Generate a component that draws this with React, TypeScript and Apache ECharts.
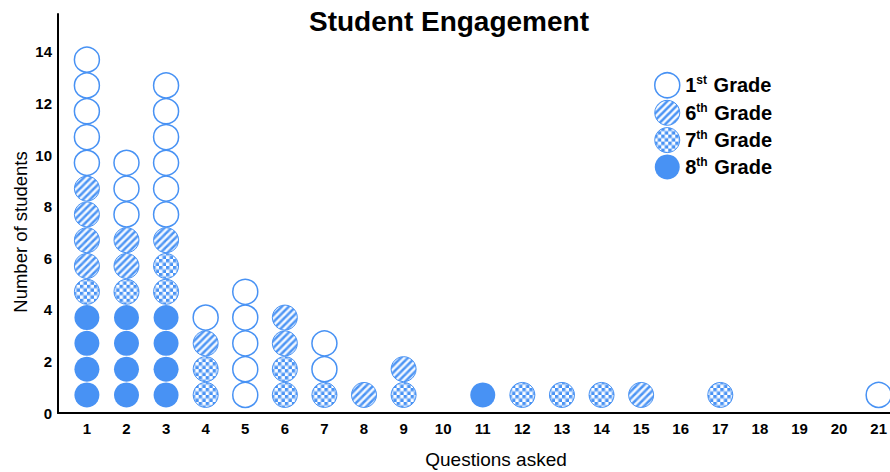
import React, { useEffect, useRef } from "react";
import * as echarts from "echarts";

const questions = [1, 2, 3, 4, 5, 6, 7, 8, 9, 10, 11, 12, 13, 14, 15, 16, 17, 18, 19, 20, 21];
// counts of students per number of questions asked, per grade
const grade8 = [4, 4, 4, 0, 0, 0, 0, 0, 0, 0, 1, 0, 0, 0, 0, 0, 0, 0, 0, 0, 0];
const grade7 = [1, 1, 2, 2, 0, 2, 1, 0, 1, 0, 0, 1, 1, 1, 0, 0, 1, 0, 0, 0, 0];
const grade6 = [4, 2, 1, 1, 0, 2, 0, 1, 1, 0, 0, 0, 0, 0, 1, 0, 0, 0, 0, 0, 0];
const grade1 = [5, 3, 6, 1, 5, 0, 2, 0, 0, 0, 0, 0, 0, 0, 0, 0, 0, 0, 0, 0, 1];
const yTicks = [0, 2, 4, 6, 8, 10, 12, 14];
const seriesNames = ["1st Grade", "6th Grade", "7th Grade", "8th Grade"];

const BLUE = "#4892F4";
const DOT_OFFSET = 0.3;
const DOT = 25;
const TILE = 7;

function makeStripes(): string {
  const s = TILE;
  const c = document.createElement("canvas");
  c.width = s;
  c.height = s;
  const ctx = c.getContext("2d")!;
  ctx.fillStyle = "#fff";
  ctx.fillRect(0, 0, s, s);
  ctx.strokeStyle = BLUE;
  ctx.lineWidth = 2.6;
  ctx.lineCap = "square";
  for (const o of [-s, 0, s]) {
    ctx.beginPath();
    ctx.moveTo(o, s);
    ctx.lineTo(o + s, 0);
    ctx.stroke();
  }
  return c.toDataURL();
}

function makeChecker(): string {
  const s = TILE;
  const h = s / 2;
  const c = document.createElement("canvas");
  c.width = s;
  c.height = s;
  const ctx = c.getContext("2d")!;
  ctx.fillStyle = "#fff";
  ctx.fillRect(0, 0, s, s);
  ctx.fillStyle = BLUE;
  ctx.fillRect(0, 0, h, h);
  ctx.fillRect(h, h, h, h);
  return c.toDataURL();
}

export default function App() {
  const ref = useRef<HTMLDivElement>(null);

  useEffect(() => {
    if (!ref.current) return;
    const chart = echarts.init(ref.current, null, { renderer: "svg" });

    const order = [grade8, grade7, grade6, grade1]; // bottom to top
    const pts: number[][][] = [[], [], [], []];
    questions.forEach((q, i) => {
      let level = 0;
      order.forEach((arr, g) => {
        for (let k = 0; k < arr[i]; k++) {
          level += 1;
          pts[g].push([q, level - DOT_OFFSET]);
        }
      });
    });

    const stripeImg = makeStripes();
    const checkerImg = makeChecker();
    // scatter symbols are drawn in a 2x2 local box scaled by size/2
    const k = 2 / DOT;
    const pat = (img: string, scale: number) => ({
      image: img,
      repeat: "repeat",
      imageWidth: TILE,
      imageHeight: TILE,
      scaleX: scale,
      scaleY: scale,
    });

    const base = {
      type: "scatter",
      symbol: "circle",
      symbolSize: DOT,
    };

    const legendStyles = [
      { color: "#fff", borderColor: BLUE, borderWidth: 1.5 },
      { color: pat(stripeImg, 1), borderColor: BLUE, borderWidth: 1 },
      { color: pat(checkerImg, 1), borderColor: BLUE, borderWidth: 1 },
      { color: BLUE, borderColor: BLUE, borderWidth: 0 },
    ];

    const font = "Liberation Sans";

    chart.setOption({
      animation: false,
      title: {
        text: "Student Engagement",
        left: 444,
        textAlign: "center",
        top: 2,
        textStyle: { fontFamily: font, fontWeight: "bold", fontSize: 28, color: "#000" },
      },
      legend: {
        data: seriesNames.map((n, i) => ({ name: n, itemStyle: legendStyles[i] })),
        orient: "vertical",
        left: 654,
        top: 72,
        padding: 0,
        itemWidth: 26,
        itemHeight: 25,
        itemGap: 1.3,
        icon: "circle",
        textStyle: {
          fontFamily: font,
          fontWeight: "bold",
          fontSize: 20,
          color: "#000",
          lineHeight: 22,
          rich: {
            sup: { fontFamily: font, fontWeight: "bold", fontSize: 12, verticalAlign: "top", color: "#000", lineHeight: 22, padding: [0, 1, 0, 0] },
            t: { fontFamily: font, fontWeight: "bold", fontSize: 20, color: "#000", lineHeight: 22 },
          },
        },
        formatter: (name: string) => {
          const m = name.match(/^(\d+)(st|nd|rd|th)(\s.*)$/);
          if (!m) return name;
          return `{t|${m[1]}}{sup|${m[2]}}{t|${m[3]}}`;
        },
      },
      grid: { left: 58, right: 0, top: 14, bottom: 59, containLabel: false },
      xAxis: {
        type: "value",
        min: 0.27,
        max: 21.28,
        axisLine: { show: true, onZero: false, lineStyle: { color: "#000", width: 2 } },
        axisTick: { show: false },
        splitLine: { show: false },
        axisLabel: {
          customValues: questions,
          margin: 8,
          fontFamily: font,
          fontWeight: "bold",
          fontSize: 15,
          color: "#000",
        },
      },
      yAxis: {
        type: "value",
        min: 0,
        max: 15.47,
        axisLine: { show: true, lineStyle: { color: "#000", width: 2 } },
        axisTick: { show: false },
        splitLine: { show: false },
        axisLabel: {
          customValues: yTicks,
          margin: 6,
          fontFamily: font,
          fontWeight: "bold",
          fontSize: 15,
          color: "#000",
        },
      },
      graphic: [
        {
          type: "text",
          x: 20,
          y: 232,
          rotation: Math.PI / 2,
          style: {
            text: "Number of students",
            textAlign: "center",
            textVerticalAlign: "middle",
            fontFamily: font,
            fontSize: 18.5,
            fill: "#000",
          },
        },
        {
          type: "text",
          x: 496,
          y: 459,
          style: {
            text: "Questions asked",
            textAlign: "center",
            textVerticalAlign: "middle",
            fontFamily: font,
            fontSize: 19,
            fill: "#000",
          },
        },
      ],
      series: [
        {
          ...base,
          name: "1st Grade",
          data: pts[3],
          itemStyle: { color: "#fff", borderColor: BLUE, borderWidth: 1.5, opacity: 1 },
        },
        {
          ...base,
          name: "6th Grade",
          data: pts[2],
          itemStyle: { color: pat(stripeImg, k), borderColor: BLUE, borderWidth: 1, opacity: 1 },
        },
        {
          ...base,
          name: "7th Grade",
          data: pts[1],
          itemStyle: { color: pat(checkerImg, k), borderColor: BLUE, borderWidth: 1, opacity: 1 },
        },
        {
          ...base,
          name: "8th Grade",
          data: pts[0],
          itemStyle: { color: BLUE, borderColor: BLUE, borderWidth: 0, opacity: 1 },
        },
      ],
    });

    return () => chart.dispose();
  }, []);

  return <div ref={ref} style={{ width: 890, height: 472, position: "absolute", left: 0, top: 0 }} />;
}
